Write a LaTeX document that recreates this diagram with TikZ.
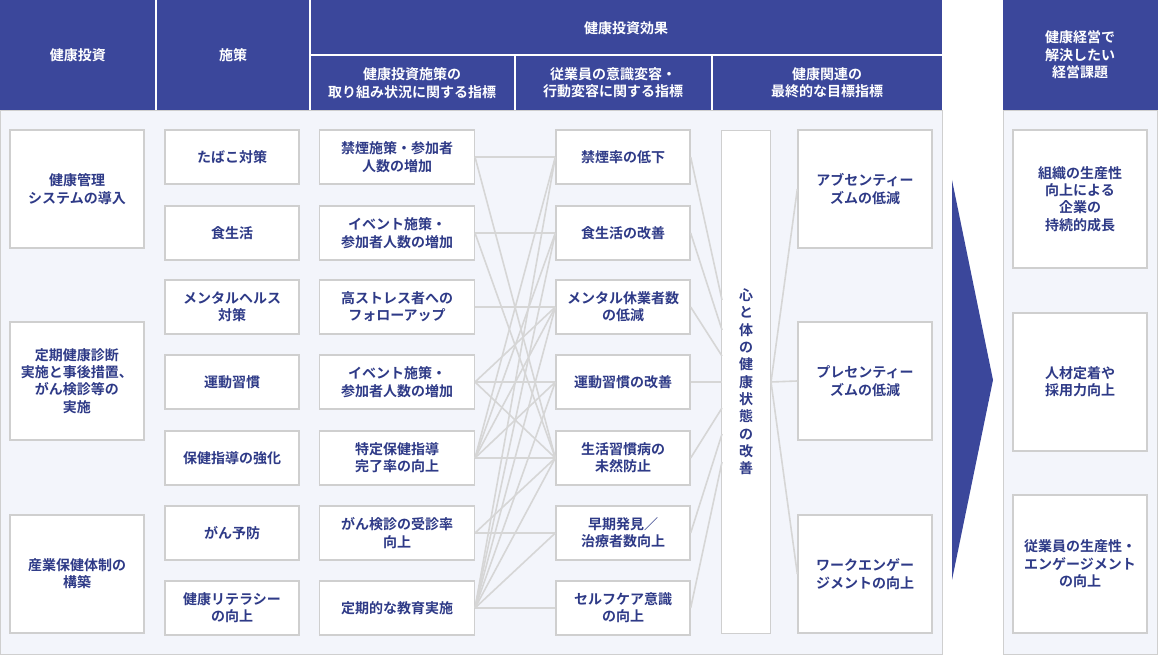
\documentclass[tikz,border=0pt]{standalone}
\usepackage{fontspec}
\setmainfont{Noto Sans CJK JP}[BoldFont={* Bold}]
\usetikzlibrary{positioning}
\definecolor{headblue}{HTML}{3B479B}
\definecolor{bodybg}{HTML}{F3F5FB}
\definecolor{boxline}{HTML}{CFCFCF}
\definecolor{txtblue}{HTML}{2E3A87}
\definecolor{linkgray}{HTML}{D6D6D6}
\tikzset{
  cellbox/.style={draw=boxline, line width=1pt, fill=white, text=txtblue, align=center,
    font=\fontsize{10.5}{13}\selectfont\bfseries, inner sep=1pt, minimum width=100.5pt, minimum height=40.5pt},
  widebox/.style={cellbox, minimum width=116pt},
  tallbox/.style={cellbox, minimum height=88.5pt},
  headtxt/.style={text=white, align=center, font=\fontsize{10.5}{13}\selectfont\bfseries},
  link/.style={draw=linkgray, line width=1.2pt},
}
\begin{document}
\begin{tikzpicture}[x=0.75pt,y=-0.75pt]
  \useasboundingbox (0,0) rectangle (1158,655);
  % header and body panels
  \fill[headblue] (0,0) rectangle (942,110);
  \fill[headblue] (1003,0) rectangle (1158,110);
  \draw[boxline, fill=bodybg] (0.5,110) rectangle (942,654.5);
  \draw[boxline, fill=bodybg] (1003,110) rectangle (1157.5,654.5);
  \draw[white, line width=1pt] (156,0) -- (156,110) (310,0) -- (310,110)
    (310,55) -- (942,55) (515,55) -- (515,110) (712,55) -- (712,110);
  \node[headtxt] (hInv) at (78,55) {健康投資};
  \node[headtxt] (hMeas) at (233,55) {施策};
  \node[headtxt] (hEff) at (626,28) {健康投資効果};
  \node[headtxt] (hEffA) at (412,83) {健康投資施策の\\取り組み状況に関する指標};
  \node[headtxt] (hEffB) at (613,83) {従業員の意識変容・\\行動変容に関する指標};
  \node[headtxt] (hEffC) at (827,83) {健康関連の\\最終的な目標指標};
  \node[headtxt] (hGoal) at (1080,55) {健康経営で\\解決したい\\経営課題};
  % big arrow
  \fill[headblue] (952,180) -- (993,380) -- (952,580) -- cycle;
  % column 1
  \node[tallbox] (a1) at (77,189) {健康管理\\システムの導入};
  \node[tallbox] (a2) at (77,381) {定期健康診断\\実施と事後措置、\\がん検診等の\\実施};
  \node[tallbox] (a3) at (77,574) {産業保健体制の\\構築};
  % column 2
  \node[cellbox] (b1) at (232,157) {たばこ対策};
  \node[cellbox] (b2) at (232,233) {食生活};
  \node[cellbox] (b3) at (232,307) {メンタルヘルス\\対策};
  \node[cellbox] (b4) at (232,382) {運動習慣};
  \node[cellbox] (b5) at (232,458) {保健指導の強化};
  \node[cellbox] (b6) at (232,533) {がん予防};
  \node[cellbox] (b7) at (232,608) {健康リテラシー\\の向上};
  % column 3
  \node[widebox] (c1) at (397,157) {禁煙施策・参加者\\人数の増加};
  \node[widebox] (c2) at (397,233) {イベント施策・\\参加者人数の増加};
  \node[widebox] (c3) at (397,307) {高ストレス者への\\フォローアップ};
  \node[widebox] (c4) at (397,382) {イベント施策・\\参加者人数の増加};
  \node[widebox] (c5) at (397,458) {特定保健指導\\完了率の向上};
  \node[widebox] (c6) at (397,533) {がん検診の受診率\\向上};
  \node[widebox] (c7) at (397,608) {定期的な教育実施};
  % column 4
  \node[cellbox] (d1) at (623,157) {禁煙率の低下};
  \node[cellbox] (d2) at (623,233) {食生活の改善};
  \node[cellbox] (d3) at (623,307) {メンタル休業者数\\の低減};
  \node[cellbox] (d4) at (623,382) {運動習慣の改善};
  \node[cellbox] (d5) at (623,458) {生活習慣病の\\未然防止};
  \node[cellbox] (d6) at (623,533) {早期発見／\\治療者数向上};
  \node[cellbox] (d7) at (623,608) {セルフケア意識\\の向上};
  % column 5
  \node[cellbox, minimum width=36.75pt, minimum height=377pt] (heart) at (746,382)
    {心\\と\\体\\の\\健\\康\\状\\態\\の\\改\\善};
  % column 6
  \node[tallbox] (e1) at (865,189) {アブセンティー\\ズムの低減};
  \node[tallbox] (e2) at (865,381) {プレセンティー\\ズムの低減};
  \node[tallbox] (e3) at (865,574) {ワークエンゲー\\ジメントの向上};
  % right column
  \node[cellbox, minimum height=103.5pt] (g1) at (1080,199) {組織の生産性\\向上による\\企業の\\持続的成長};
  \node[cellbox, minimum height=103.5pt] (g2) at (1080,382) {人材定着や\\採用力向上};
  \node[cellbox, minimum height=103.5pt] (g3) at (1080,564) {従業員の生産性・\\エンゲージメント\\の向上};
  % links column 3 -> column 4
  \begin{scope}[on background layer/.try]
  \foreach \s/\t in {c1/d1,c1/d5,c2/d2,c2/d5,c3/d3,c4/d3,c4/d4,c4/d5,
      c5/d1,c5/d2,c5/d3,c5/d4,c5/d5,c6/d6,c6/d5,
      c7/d1,c7/d2,c7/d3,c7/d4,c7/d5,c7/d6,c7/d7}
    \draw[link] (\s.east) -- (\t.west);
  \end{scope}
  % links column 4 -> heart
  \foreach \i/\y in {1/300,2/330,3/356,4/382,5/408,6/434,7/462}{
    \coordinate (h\i) at (722,\y);
    \draw[link] (d\i.east) -- (h\i);
  }
  % links heart -> outcomes
  \coordinate (hOut) at (771,382);
  \foreach \t in {e1,e2,e3}
    \draw[link] (hOut) -- (\t.west);
\end{tikzpicture}
\end{document}
